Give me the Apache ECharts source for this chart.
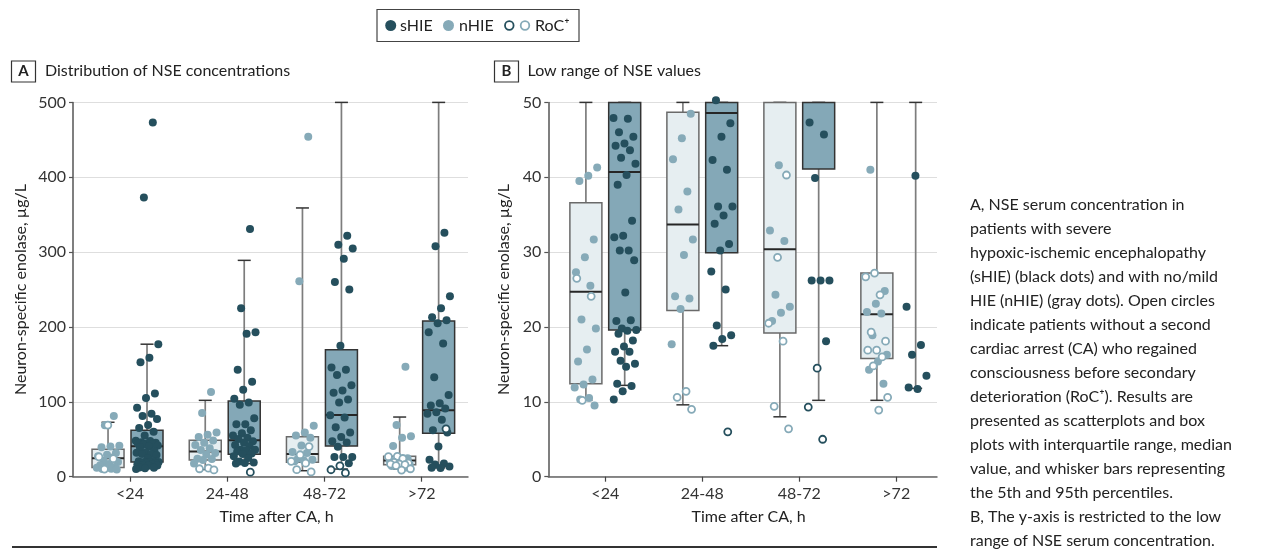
<!DOCTYPE html>
<html>
<head>
<meta charset="utf-8">
<script src="https://cdn.jsdelivr.net/npm/echarts@6/dist/echarts.min.js"></script>
<style>html,body{margin:0;padding:0;background:#fff;}#c{width:1267px;height:550px;}</style>
</head>
<body>
<div id="c"></div>
<script>
// ---------------- DATA ----------------
const categories = ['<24', '24-48', '48-72', '>72'];

// sHIE patients (filled dark dots), NSE µg/L, one list per time window
const sHIE = [
  [473, 373, 177, 159, 153, 111, 105, 92, 84, 81, 77, 69, 65, 60, 55, 47.9, 47.8, 46.0, 45.4, 44.5, 44.2, 43.6, 42.6, 41.8, 40.3, 39.0, 34.2, 32.2, 32.0, 30.2, 30.2, 28.9, 24.6, 20.8, 20.9, 19.8, 19.6, 19.5, 19.1, 18.2, 17.4, 16.7, 16.7, 15.5, 15.1, 14.7, 12.4, 12.1, 11.4, 10.3],
  [331, 225, 193, 191, 143, 127, 116, 104, 99, 96, 78, 70, 70, 62, 58, 55, 52, 50.3, 47.2, 45.4, 42.3, 41.0, 36.1, 36.1, 34.9, 33.8, 31.1, 30.2, 27.4, 25.0, 20.2, 18.9, 18.4, 17.5],
  [322, 310, 305, 291, 260, 250, 175, 146, 143, 136, 122, 115, 112, 103, 99, 82, 79, 66, 59, 53, 47.3, 45.7, 39.9, 26.2, 26.2, 26.2, 18.1],
  [326, 308, 241, 225, 213, 209, 205, 193, 178, 133, 109, 98, 95, 91, 86, 84, 76, 62, 59, 40.2, 22.7, 17.6, 16.3, 13.5, 11.7, 11.9]
];
// sHIE patients with RoC+ (open dark circles)
const sHIE_RoC = [
  [],
  [6.0],
  [14.5, 9.3, 5.0],
  [64]
];
// nHIE patients (filled light dots)
const nHIE = [
  [81, 68.6, 41.3, 40.2, 39.5, 31.7, 29.3, 27.3, 25.5, 21.0, 19.8, 17.0, 15.4, 13.0, 12.3, 11.9, 10.5, 10.3, 9.5],
  [113, 85, 59, 56, 53, 48.5, 45.2, 42.4, 38.1, 35.7, 31.7, 29.6, 24.1, 23.8, 22.4, 17.7],
  [454, 261, 68, 59, 55, 52, 41.6, 32.9, 31.5, 24.3, 22.7, 21.9, 20.8],
  [147, 69, 54, 52, 41.0, 24.8, 23.1, 22.0, 21.8, 18.9, 16.3, 15.4, 14.3, 12.4]
];
// nHIE patients with RoC+ (open light circles)
const nHIE_RoC = [
  [69, 26.5, 24.1, 10.2],
  [11.4, 10.6, 9.0],
  [40.3, 29.3, 20.5, 18.1, 9.4, 6.4],
  [27.2, 26.7, 24.3, 19.3, 18.1, 16.9, 16.9, 16.0, 14.8, 10.6, 8.9]
];
// box statistics: [5th pct, Q1, median, Q3, 95th pct]
const sHIE_box = [
  [12.2, 19.6, 40.7, 62, 177],
  [17.5, 29.9, 48.6, 101, 289],
  [10.2, 41.1, 82.4, 169.7, 500],
  [11.8, 57.9, 88.6, 208, 500]
];
const nHIE_box = [
  [10.2, 12.4, 24.7, 36.6, 72.7],
  [9.6, 22.2, 33.7, 48.7, 102],
  [8.0, 19.2, 30.4, 53.4, 359],
  [10.2, 15.8, 21.7, 27.2, 79.7]
];
const panelA_ticks = [0, 100, 200, 300, 400, 500];
const panelB_ticks = [0, 10, 20, 30, 40, 50];

const captionLines = [
  'A, NSE serum concentration in',
  'patients with severe',
  'hypoxic-ischemic encephalopathy',
  '(sHIE) (black dots) and with no/mild',
  'HIE (nHIE) (gray dots). Open circles',
  'indicate patients without a second',
  'cardiac arrest (CA) who regained',
  'consciousness before secondary',
  'deterioration (RoC\u207A). Results are',
  'presented as scatterplots and box',
  'plots with interquartile range, median',
  'value, and whisker bars representing',
  'the 5th and 95th percentiles.',
  'B, The y-axis is restricted to the low',
  'range of NSE serum concentration.'
];

// ---------------- STYLE ----------------
const FONT = 'Lato, "Noto Sans", sans-serif';
const DARK = '#254f5d';
const LIGHT = '#86aab8';
const S_BOX = '#84a8b7';
const N_BOX = '#e6eef1';

const chart = echarts.init(document.getElementById('c'), null, {renderer: 'canvas'});

function jitter(k) {
  // deterministic horizontal spread of dots within a group
  return ((((k + 1) * 0.6180339887 + 0.13) % 1) - 0.5) * 0.24;
}

function boxRender(ymax, boxPx) {
  return function (params, api) {
    const x = api.value(0);
    const lo = api.value(1), q1 = api.value(2), md = api.value(3), q3 = api.value(4), hi = api.value(5);
    const isS = api.value(6) === 1;
    const px = api.coord([x, 0])[0];
    const py = v => api.coord([x, Math.min(v, ymax)])[1];
    const hw = boxPx / 2, cw = 6.5;
    const ch = [];
    ch.push({type: 'line', shape: {x1: px, y1: py(lo), x2: px, y2: py(hi)}, style: {stroke: '#7d7d7d', lineWidth: 1.7}});
    ch.push({type: 'line', shape: {x1: px - cw, y1: py(lo), x2: px + cw, y2: py(lo)}, style: {stroke: '#333', lineWidth: 1.5}});
    ch.push({type: 'line', shape: {x1: px - cw, y1: py(hi), x2: px + cw, y2: py(hi)}, style: {stroke: '#333', lineWidth: 1.5}});
    if (q1 < ymax) {
      ch.push({type: 'rect', shape: {x: px - hw, y: py(q3), width: 2 * hw, height: py(q1) - py(q3)},
        style: {fill: isS ? S_BOX : N_BOX, stroke: isS ? '#333' : '#6a6a6a', lineWidth: 1.5}});
    }
    if (md <= ymax) {
      ch.push({type: 'line', shape: {x1: px - hw, y1: py(md), x2: px + hw, y2: py(md)}, style: {stroke: '#262626', lineWidth: 2}});
    }
    return {type: 'group', children: ch};
  };
}

function boxData(off) {
  const d = [];
  for (let i = 0; i < categories.length; i++) {
    d.push([i + 1 + off.n].concat(nHIE_box[i], [0]));
    d.push([i + 1 + off.s].concat(sHIE_box[i], [1]));
  }
  return d;
}

function dotData(filled, open, off, ymax, which) {
  const d = [];
  for (let i = 0; i < categories.length; i++) {
    const all = filled[i].map(v => [v, 'f']).concat(open[i].map(v => [v, 'o']));
    all.forEach((p, k) => {
      if (p[1] === which && p[0] <= ymax) d.push([i + 1 + off + jitter(k), p[0]]);
    });
  }
  return d;
}

function panelSeries(idx, ymax, off, boxPx) {
  const base = {xAxisIndex: idx, yAxisIndex: idx, silent: true};
  return [
    Object.assign({type: 'custom', renderItem: boxRender(ymax, boxPx), data: boxData(off), clip: false, encode: {x: 0, y: [1, 5]}, z: 2}, base),
    Object.assign({type: 'scatter', symbolSize: 8, itemStyle: {color: LIGHT, opacity: 1}, data: dotData(nHIE, nHIE_RoC, off.n, ymax + 0.5, 'f'), clip: false, z: 3}, base),
    Object.assign({type: 'scatter', symbolSize: 7, itemStyle: {color: '#fff', borderColor: LIGHT, borderWidth: 1.8, opacity: 1}, data: dotData(nHIE, nHIE_RoC, off.n, ymax + 0.5, 'o'), clip: false, z: 3}, base),
    Object.assign({type: 'scatter', symbolSize: 8, itemStyle: {color: DARK, opacity: 1}, data: dotData(sHIE, sHIE_RoC, off.s, ymax + 0.5, 'f'), clip: false, z: 3}, base),
    Object.assign({type: 'scatter', symbolSize: 7, itemStyle: {color: '#fff', borderColor: DARK, borderWidth: 1.8, opacity: 1}, data: dotData(sHIE, sHIE_RoC, off.s, ymax + 0.5, 'o'), clip: false, z: 3}, base)
  ];
}

function mkX(idx, min, max) {
  return {
    type: 'value', gridIndex: idx, min: min, max: max,
    name: 'Time after CA, h', nameLocation: 'middle', nameGap: 32,
    nameTextStyle: {fontFamily: FONT, fontSize: 16, color: '#222', padding: [0, 0, 0, 12]},
    axisLine: {show: true, lineStyle: {color: '#666', width: 1.5}},
    axisTick: {show: true, length: 5, customValues: [1, 2, 3, 4], lineStyle: {color: '#444', width: 1.2}},
    axisLabel: {customValues: [1, 2, 3, 4], formatter: v => categories[Math.round(v) - 1], fontFamily: FONT, fontSize: 16, color: '#333', margin: 9},
    splitLine: {show: false}
  };
}
function mkY(idx, ticks, gap) {
  return {
    type: 'value', gridIndex: idx, min: ticks[0], max: ticks[ticks.length - 1], interval: ticks[1] - ticks[0],
    name: 'Neuron-specific enolase, \u00B5g/L', nameLocation: 'middle', nameGap: gap,
    nameTextStyle: {fontFamily: FONT, fontSize: 16, color: '#222'},
    axisLine: {show: true, lineStyle: {color: '#555', width: 1.5}},
    axisTick: {show: true, length: 4, lineStyle: {color: '#555', width: 1.2}},
    axisLabel: {fontFamily: FONT, fontSize: 16, color: '#333', margin: 7},
    splitLine: {show: true, lineStyle: {color: '#dedede', width: 1}}
  };
}

const gAx = 0.4136, gBx = 0.4124;
const offA = {n: -0.226, s: 0.175};
const offB = {n: -0.2, s: 0.2};

const graphic = [
  // legend
  {type: 'rect', shape: {x: 377, y: 9.5, width: 202, height: 32}, style: {fill: 'none', stroke: '#444', lineWidth: 1.2}},
  {type: 'circle', shape: {cx: 390.7, cy: 25.5, r: 5.5}, style: {fill: DARK}},
  {type: 'text', x: 400, y: 25.5, style: {text: 'sHIE', font: '16px ' + FONT, fill: '#222', verticalAlign: 'middle'}},
  {type: 'circle', shape: {cx: 448.5, cy: 25.5, r: 5.5}, style: {fill: LIGHT}},
  {type: 'text', x: 459, y: 25.5, style: {text: 'nHIE', font: '16px ' + FONT, fill: '#222', verticalAlign: 'middle'}},
  {type: 'circle', shape: {cx: 509.3, cy: 25.5, r: 4.3}, style: {fill: '#fff', stroke: DARK, lineWidth: 1.8}},
  {type: 'circle', shape: {cx: 525, cy: 25.5, r: 4.3}, style: {fill: '#fff', stroke: LIGHT, lineWidth: 1.8}},
  {type: 'text', x: 535, y: 25.5, style: {text: 'RoC\u207A', font: '16px ' + FONT, fill: '#222', verticalAlign: 'middle'}},
  // panel headers
  {type: 'rect', shape: {x: 11.5, y: 61, width: 24, height: 21}, style: {fill: '#fff', stroke: '#333', lineWidth: 1.2}},
  {type: 'text', x: 23.5, y: 71.5, style: {text: 'A', font: 'bold 15px ' + FONT, fill: '#222', align: 'center', verticalAlign: 'middle'}},
  {type: 'text', x: 45, y: 70.5, style: {text: 'Distribution of NSE concentrations', font: '16px ' + FONT, fill: '#222', verticalAlign: 'middle'}},
  {type: 'rect', shape: {x: 494.5, y: 61, width: 24, height: 21}, style: {fill: '#fff', stroke: '#333', lineWidth: 1.2}},
  {type: 'text', x: 506.5, y: 71.5, style: {text: 'B', font: 'bold 15px ' + FONT, fill: '#222', align: 'center', verticalAlign: 'middle'}},
  {type: 'text', x: 527.5, y: 70.5, style: {text: 'Low range of NSE values', font: '16px ' + FONT, fill: '#222', verticalAlign: 'middle'}},
  // caption
  {type: 'text', x: 970, y: 193, style: {text: captionLines.join('\n'), font: '16px ' + FONT, lineHeight: 24, fill: '#222', verticalAlign: 'top'}},
  // bottom rule
  {type: 'line', shape: {x1: 12, y1: 547, x2: 937, y2: 547}, style: {stroke: '#333', lineWidth: 2}}
];

const option = {
  animation: false,
  backgroundColor: '#fff',
  textStyle: {fontFamily: FONT},
  grid: [
    {left: 73, right: 1267 - 468, top: 102.4, bottom: 73.3},
    {left: 548.3, right: 1267 - 937, top: 102.4, bottom: 73.3}
  ],
  xAxis: [mkX(0, gAx, 4.477), mkX(1, gBx, 4.42)],
  yAxis: [mkY(0, panelA_ticks, 44), mkY(1, panelB_ticks, 36)],
  series: panelSeries(0, panelA_ticks[5], offA, 32).concat(panelSeries(1, panelB_ticks[5], offB, 32)),
  graphic: graphic
};
chart.setOption(option);
</script>
</body>
</html>
